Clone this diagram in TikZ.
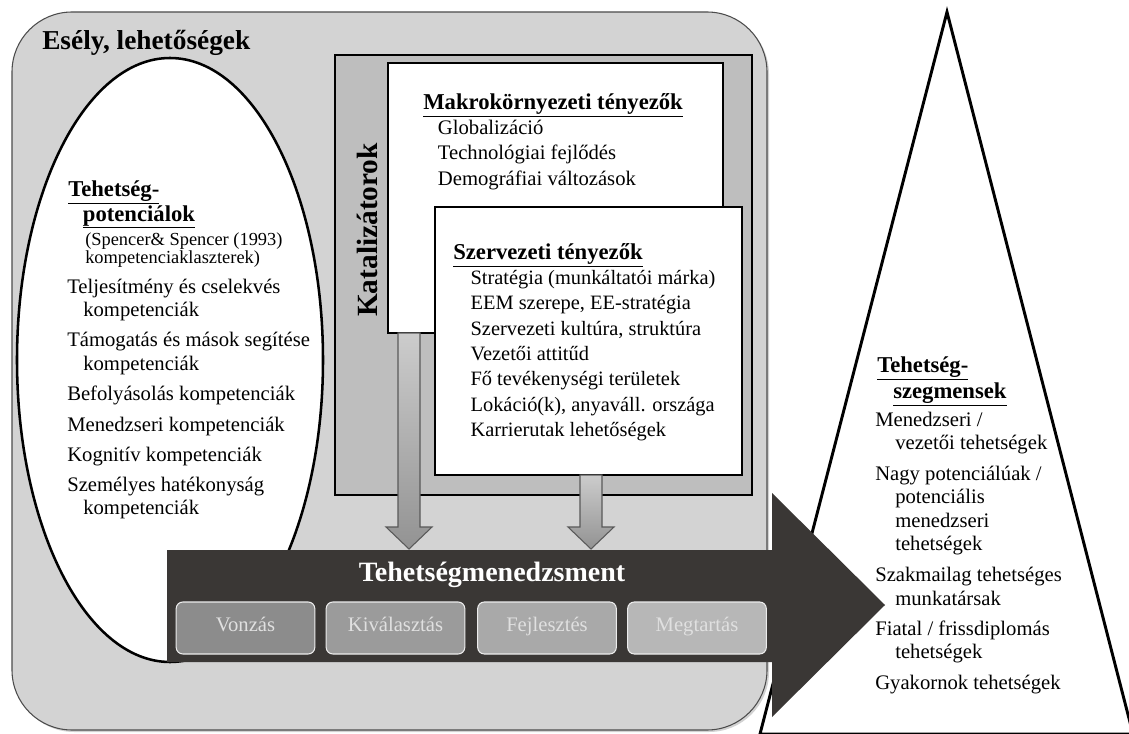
\documentclass[tikz,border=0pt]{standalone}
\usepackage{fontspec}
\setmainfont{Liberation Serif}
\usepackage{tikz}
\usetikzlibrary{shadows}

\definecolor{panelgray}{HTML}{D3D3D3}
\definecolor{catgray}{HTML}{BEBEBE}
\definecolor{arrowdark}{HTML}{3A3735}
\definecolor{boxtext}{HTML}{E0E0E0}
\definecolor{stepA}{HTML}{8C8C8C}
\definecolor{stepB}{HTML}{9B9B9B}
\definecolor{stepC}{HTML}{A9A9A9}
\definecolor{stepD}{HTML}{B7B7B7}

\tikzset{
  lst/.style={anchor=north west, align=left, inner sep=0pt, font=\fontsize{15.5}{17.5}\selectfont},
  hd/.style={font=\fontsize{17}{19}\selectfont\bfseries},
  heavybox/.style={draw=black, line width=2.2pt},
  dnarrow/.style={top color=gray!40, bottom color=gray!85, draw=black!65, line width=0.8pt},
  tmbox/.style={draw=white!85!gray, line width=0.8pt, rounded corners=5pt, minimum width=104pt,
    minimum height=39pt, text=boxtext, text height=0.72em, text depth=0.22em,
    font=\fontsize{15.5}{17}\selectfont}
}

\begin{document}
\begin{tikzpicture}[x=0.75pt, y=-0.75pt]

    \useasboundingbox (0,0) rectangle (1129,734);
    \fill[white] (0,0) rectangle (1129,734);

    % --- PANEL: ESELY, LEHETOSEGEK ---
    \draw[fill=panelgray, draw=black!70, line width=0.8pt, rounded corners=45pt,
      drop shadow={opacity=0.35, shadow xshift=1.5pt, shadow yshift=-1.5pt}]
      (12,12) rectangle (767,730);
    \node[anchor=west, inner sep=0pt, font=\fontsize{20.5}{22}\selectfont\bfseries] (esely) at (42,43) {Esély, lehetőségek};

    % --- TRIANGLE (talent segments) ---
    \draw[fill=white, line width=2.2pt, line join=miter] (947,12) -- (1133,734) -- (760,734) -- cycle;

    % --- ELLIPSE: talent potentials ---
    \draw[fill=white, line width=1.9pt] (170,360) ellipse [x radius=153, y radius=302];
    \node[lst, hd, font=\fontsize{17}{18.75}\selectfont\bfseries] (potHead) at (68,180)
      {\underline{Tehetség-}\\\hspace*{11pt}\underline{potenciálok}};
    \node[lst, font=\fontsize{13.8}{13.5}\selectfont] (potSrc) at (85,232)
      {(Spencer\& Spencer (1993)\\kompetenciaklaszterek)};
    \node[lst] (potList) at (67,279)
      {Teljesítmény és cselekvés\\\hspace*{12pt}kompetenciák\\[5pt]
       Támogatás és mások segítése\\\hspace*{12pt}kompetenciák\\[5.5pt]
       Befolyásolás kompetenciák\\[5.5pt]
       Menedzseri kompetenciák\\[5pt]
       Kognitív kompetenciák\\[5pt]
       Személyes hatékonyság\\\hspace*{12pt}kompetenciák};

    % --- CATALYSTS ---
    \draw[heavybox, fill=catgray] (335,55) rectangle (752,495);
    \node[rotate=90, inner sep=0pt, font=\fontsize{22}{24}\selectfont\bfseries] (katal) at (367,230) {Katalizátorok};

    \draw[heavybox, fill=white] (388,63) rectangle (723,333);
    \node[lst, font=\fontsize{15.5}{19}\selectfont] (makro) at (423,93)
      {{\fontsize{17}{19}\selectfont\bfseries\underline{Makrokörnyezeti tényezők}}\\
       \hspace*{11pt}Globalizáció\\
       \hspace*{11pt}Technológiai fejlődés\\
       \hspace*{11pt}Demográfiai változások};

    \draw[heavybox, fill=white] (435,207) rectangle (742,475);
    \node[lst, font=\fontsize{15.3}{19}\selectfont] (szerv) at (453,243)
      {{\fontsize{17}{19}\selectfont\bfseries\underline{Szervezeti tényezők}}\\
       \hspace*{13pt}Stratégia (munkáltatói márka)\\
       \hspace*{13pt}EEM szerepe, EE-stratégia\\
       \hspace*{13pt}Szervezeti kultúra, struktúra\\
       \hspace*{13pt}Vezetői attitűd\\
       \hspace*{13pt}Fő tevékenységi területek\\
       \hspace*{13pt}Lokáció(k), anyaváll. országa\\
       \hspace*{13pt}Karrierutak lehetőségek};

    % down arrows into talent management
    \shade[dnarrow] (398,333) -- (420,333) -- (420,527) -- (432,527) -- (409,549) -- (386,527) -- (398,527) -- cycle;
    \shade[dnarrow] (580,475) -- (602,475) -- (602,527) -- (614,527) -- (591,549) -- (568,527) -- (580,527) -- cycle;

    % --- TALENT MANAGEMENT ARROW ---
    \fill[arrowdark] (167,550) -- (772,550) -- (772,493) -- (885,605) -- (772,717) -- (772,662) -- (167,662) -- cycle;
    \node[text=white, font=\fontsize{21}{23}\selectfont\bfseries] (tm) at (492,575) {Tehetségmenedzsment};

    \node[tmbox, fill=stepA] (vonzas) at (245.5,628) {Vonzás};
    \node[tmbox, fill=stepB] (kival) at (395.5,628) {Kiválasztás};
    \node[tmbox, fill=stepC] (fejl) at (547,628) {Fejlesztés};
    \node[tmbox, fill=stepD] (megt) at (697,628) {Megtartás};

    % --- TALENT SEGMENTS ---
    \node[lst, hd, font=\fontsize{17}{20}\selectfont\bfseries] (segHead) at (877,356)
      {\underline{Tehetség-}\\\hspace*{12pt}\underline{szegmensek}};
    \node[lst] (segList) at (875,412)
      {Menedzseri /\\\hspace*{15pt}vezetői tehetségek\\[5.5pt]
       Nagy potenciálúak /\\\hspace*{15pt}potenciális\\\hspace*{15pt}menedzseri\\\hspace*{15pt}tehetségek\\[6pt]
       Szakmailag tehetséges\\\hspace*{15pt}munkatársak\\[5pt]
       Fiatal / frissdiplomás\\\hspace*{15pt}tehetségek\\[5.5pt]
       Gyakornok tehetségek};

\end{tikzpicture}
\end{document}
